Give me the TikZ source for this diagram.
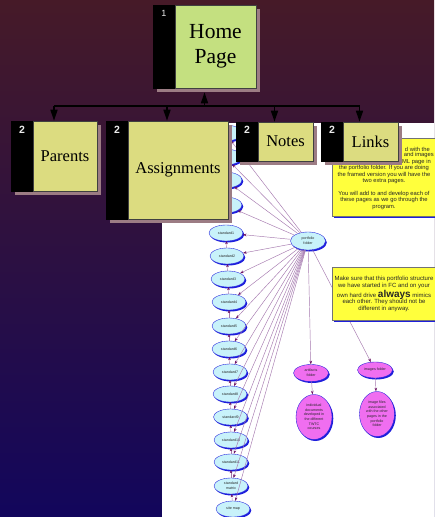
\documentclass[tikz,border=0pt]{standalone}
\usepackage{fontspec}
\setmainfont{Liberation Serif}
\newfontfamily\sansf{Liberation Sans}
\usetikzlibrary{shapes.geometric,shadows,arrows.meta,calc}
\definecolor{bgtop}{RGB}{70,26,40}
\definecolor{bgbot}{RGB}{18,6,92}
\definecolor{shadowc}{RGB}{156,124,132}
\definecolor{homegreen}{RGB}{196,224,128}
\definecolor{childyellow}{RGB}{220,220,128}
\definecolor{ovalcyan}{RGB}{200,242,250}
\definecolor{ovalblue}{RGB}{30,30,220}
\definecolor{ovalmag}{RGB}{240,110,240}
\definecolor{linkpurple}{RGB}{165,120,175}
\definecolor{tippurple}{RGB}{110,20,100}
\definecolor{noteyellow}{RGB}{255,255,60}
\tikzset{
  boxall/.style={rectangle, draw=black, line width=0.6pt, fill=black, inner sep=0pt,
    drop shadow={shadow xshift=3.5pt, shadow yshift=-3.5pt, fill=shadowc, opacity=1}},
  labelbox/.style={rectangle, draw=black!75, line width=0.5pt, inner sep=0pt, align=center},
  childlabel/.style={labelbox, fill=childyellow, font=\fontsize{16.5}{19}\selectfont},
  numlbl/.style={font=\sansf\bfseries\fontsize{10.5}{11}\selectfont, text=white!85!gray, inner sep=0pt},
  treeline/.style={line width=1.6pt, -{Triangle[width=7pt,length=11pt]}},
  busline/.style={line width=2pt},
  oval/.style={ellipse, draw=ovalblue, line width=0.35pt, inner sep=0pt, align=center,
    font=\sansf\fontsize{3.6}{4.6}\selectfont, text=black!85,
    drop shadow={shadow xshift=1.3pt, shadow yshift=-1.5pt, fill=ovalblue, opacity=1}},
  stdoval/.style={oval, fill=ovalcyan, minimum width=34pt, minimum height=16pt},
  magoval/.style={oval, fill=ovalmag},
  plink/.style={draw=linkpurple, line width=0.45pt, -{Stealth[length=3.6pt,width=2.6pt,color=tippurple]}},
  chainlink/.style={draw=linkpurple, line width=0.4pt, -{Stealth[length=3pt,width=2.6pt,color=tippurple]}},
  notebox/.style={rectangle, fill=noteyellow, draw=black!55, line width=0.4pt, inner sep=0pt,
    drop shadow={shadow xshift=1.8pt, shadow yshift=-1.8pt, fill=ovalblue, opacity=1}},
  notetext/.style={font=\sansf\fontsize{5.8}{6.4}\selectfont, align=center, inner sep=0pt, text=black!85}
}
\begin{document}
\begin{tikzpicture}[x=1pt,y=-1pt]
\useasboundingbox (0,0) rectangle (434,517);
\shade[top color=bgtop, bottom color=bgbot] (0,0) rectangle (434,517);
\fill[white] (162,123) rectangle (434,517);

% concept map ovals
\foreach \i/\x/\y in {1/225/133,2/225/157,3/225/180,4/225/205}
  \node[stdoval] (o\i) at (\x,\y) {};
\foreach \i/\x/\y/\t in {5/226/233/standard1,6/227/256/standard2,7/228/279/standard3,
  8/229/302/standard4,9/229/326/standard5,10/229/349/standard6,11/230/372/standard7,
  12/230/394/standard8,13/230.5/417/standard9,14/231/440/standard10,15/231/462/standard11,
  16/231/486/standard\\matrix,17/233/509/site map}
  \node[stdoval] (o\i) at (\x,\y) {\t};
\node[stdoval, minimum width=35pt, minimum height=18pt] (pf) at (308,241) {portfolio\\folder};
\node[magoval, minimum width=35pt, minimum height=17pt] (art) at (311,373) {artifacts\\folder};
\node[magoval, minimum width=35pt, minimum height=16pt] (img) at (375,370) {images folder};
\node[magoval, minimum width=36pt, minimum height=45pt] (indiv) at (314,417)
  {individual\\documents\\developed in\\the different\\TWTC\\courses};
\node[magoval, minimum width=35pt, minimum height=45pt] (imgf) at (377,414)
  {image files\\associated\\with the other\\pages in the\\portfolio\\folder};

% links of the concept map
\foreach \i in {1,...,17} \draw[plink] (pf) -- (o\i);
\foreach \i [evaluate=\i as \j using int(\i+1)] in {5,...,16} \draw[chainlink] (o\j) -- (o\i);
\draw[plink] (pf) -- (art);
\draw[plink] (pf) -- (img);
\draw[plink] (art) -- (indiv);
\draw[plink] (img) -- (imgf);

% yellow notes
\node[notebox, minimum width=112pt, minimum height=78pt] (note1) at (388,177) {};
\node[notetext, anchor=east] (n1a) at (430,149) {d with the};
\node[notetext, anchor=east] (n1b) at (434,155.4) {and images};
\node[notetext, anchor=east] (n1c) at (431,161.8) {ML page in};
\node[notetext, anchor=north] (n1d) at (384,165.5)
  {the portfolio folder. If you are doing\\the framed version you will have the\\two extra pages.\\[6.4pt]You will add to and develop each of\\these pages as we go through the\\program.};
\node[notebox, minimum width=112pt, minimum height=53pt] (note2) at (388,293.5) {};
\node[notetext, font=\sansf\fontsize{6}{6.6}\selectfont] (n2) at (384,294)
  {Make sure that this portfolio structure\\we have started in FC and on your\\own hard drive {\fontsize{10}{10}\selectfont\bfseries always} mimics\\each other. They should not be\\different in anyway.};

% organisation chart
\node[boxall, minimum width=103pt, minimum height=83pt] (home) at (204.5,46.5) {};
\node[labelbox, fill=homegreen, minimum width=81pt, minimum height=83pt,
  font=\fontsize{21.5}{25}\selectfont] (homel) at (215.5,46.5) {Home\\Page};
\node[numlbl, font=\sansf\fontsize{9}{9}\selectfont] (homen) at (164,13) {1};

\node[boxall, minimum width=86pt, minimum height=70pt] (parents) at (54,156) {};
\node[childlabel, minimum width=64pt, minimum height=70pt] (parentsl) at (65,156) {Parents};
\node[numlbl] (parentsn) at (22,129.5) {2};

\node[boxall, minimum width=122pt, minimum height=98pt] (assign) at (167,170) {};
\node[childlabel, minimum width=100pt, minimum height=98pt] (assignl) at (178,170) {Assignments};
\node[numlbl] (assignn) at (117,129.5) {2};

\node[boxall, minimum width=77pt, minimum height=39pt] (notes) at (274.5,141.5) {};
\node[childlabel, minimum width=55pt, minimum height=39pt] (notesl) at (285.5,141.5) {Notes};
\node[numlbl] (notesn) at (247,129.5) {2};

\node[boxall, minimum width=77pt, minimum height=39pt] (links) at (359.5,141.5) {};
\node[childlabel, minimum width=55pt, minimum height=39pt] (linksl) at (370.5,141.5) {Links};
\node[numlbl] (linksn) at (332,129.5) {2};

\coordinate (busmid) at (204.5,105.5);
\draw[treeline] (busmid) -- ([yshift=-4pt]home.south);
\draw[busline] (parents.north |- busmid) -- (links.north |- busmid);
\foreach \n in {parents,assign,notes,links}
  \draw[treeline] (\n.north |- busmid) -- (\n.north);
\end{tikzpicture}
\end{document}
